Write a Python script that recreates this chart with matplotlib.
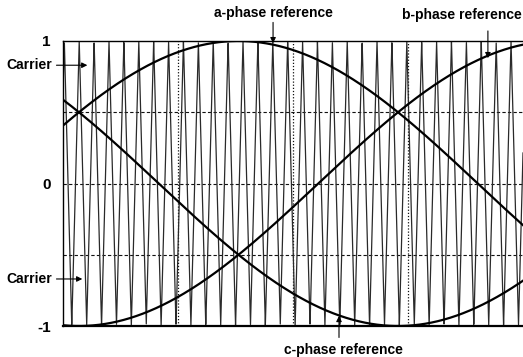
import numpy as np
import matplotlib.pyplot as plt

plt.rcParams['font.family'] = ['Liberation Sans', 'DejaVu Sans']

# electrical angle window shown (degrees)
theta_start = 24.0
theta_end = 197.0

# sinusoidal references: amplitude and phase shift (degrees)
ref_names = ["a", "b", "c"]
ref_shift = [0.0, -120.0, 120.0]
ref_amp = 1.0

# triangular carrier
carrier_period = 5.6   # degrees per carrier cycle
carrier_peak_at = 24.5 # angle of a positive carrier peak

yticks = [-1, 0, 1]
ygrid = [-0.5, 0, 0.5]
xgrid = [67.25, 110.5, 153.75]

theta = np.linspace(theta_start, theta_end, 4000)

fig = plt.figure(figsize=(5.23, 3.57), dpi=100)
ax = fig.add_axes([63/523, 31/357, 460/523, 285/357])

# carrier: symmetric triangle between -1 and 1
ph = ((theta - carrier_peak_at) / carrier_period) % 1.0
carrier = 4 * np.abs(ph - 0.5) - 1
ax.plot(theta, carrier, color='#2a2a2a', lw=0.9, zorder=2)

for name, s in zip(ref_names, ref_shift):
    ax.plot(theta, ref_amp * np.sin(np.radians(theta + s)), color='black', lw=1.6, zorder=3)

for g in ygrid:
    ax.axhline(g, color='#111111', lw=0.8, ls=(0, (3, 2)), zorder=1)
for g in xgrid:
    ax.axvline(g, color='#111111', lw=0.9, ls=(0, (1, 1.5)), zorder=1)

ax.set_xlim(theta_start, theta_end)
ax.set_ylim(-1.0, 1.0)
ax.set_xticks([])
ax.set_yticks(yticks)
ax.set_yticklabels(['-1', '0', '1'], fontsize=11, fontweight='bold')
ax.tick_params(axis='y', length=0, pad=9)
ax.spines['right'].set_visible(False)
ax.spines['top'].set_linewidth(1.0)
ax.spines['left'].set_linewidth(1.0)
ax.spines['bottom'].set_linewidth(1.6)
for sp in ax.spines.values():
    sp.set_zorder(4)

lab = dict(fontsize=10, fontweight='bold', color='black')
arr = dict(arrowstyle='-|>', color='black', lw=0.8, mutation_scale=8)

ax.text(103, 1.2, 'a-phase reference', ha='center', va='center', clip_on=False, **lab)
ax.annotate('', xy=(103, 0.965), xytext=(103, 1.15), arrowprops=arr, annotation_clip=False)

ax.text(174, 1.18, 'b-phase reference', ha='center', va='center', clip_on=False, **lab)
ax.annotate('', xy=(183.8, 0.86), xytext=(183.8, 1.09), arrowprops=arr, annotation_clip=False)

ax.text(129.6, -1.165, 'c-phase reference', ha='center', va='center', clip_on=False, **lab)
ax.annotate('', xy=(127.8, -0.91), xytext=(127.8, -1.1), arrowprops=arr, annotation_clip=False)

ax.text(theta_start - 4.0, 0.83, 'Carrier', ha='right', va='center', clip_on=False, **lab)
ax.annotate('', xy=(34.2, 0.83), xytext=(theta_start - 3.5, 0.83), arrowprops=arr, annotation_clip=False)

ax.text(theta_start - 4.0, -0.67, 'Carrier', ha='right', va='center', clip_on=False, **lab)
ax.annotate('', xy=(32.3, -0.67), xytext=(theta_start - 3.5, -0.67), arrowprops=arr, annotation_clip=False)

fig.savefig('out.png', dpi=100)
